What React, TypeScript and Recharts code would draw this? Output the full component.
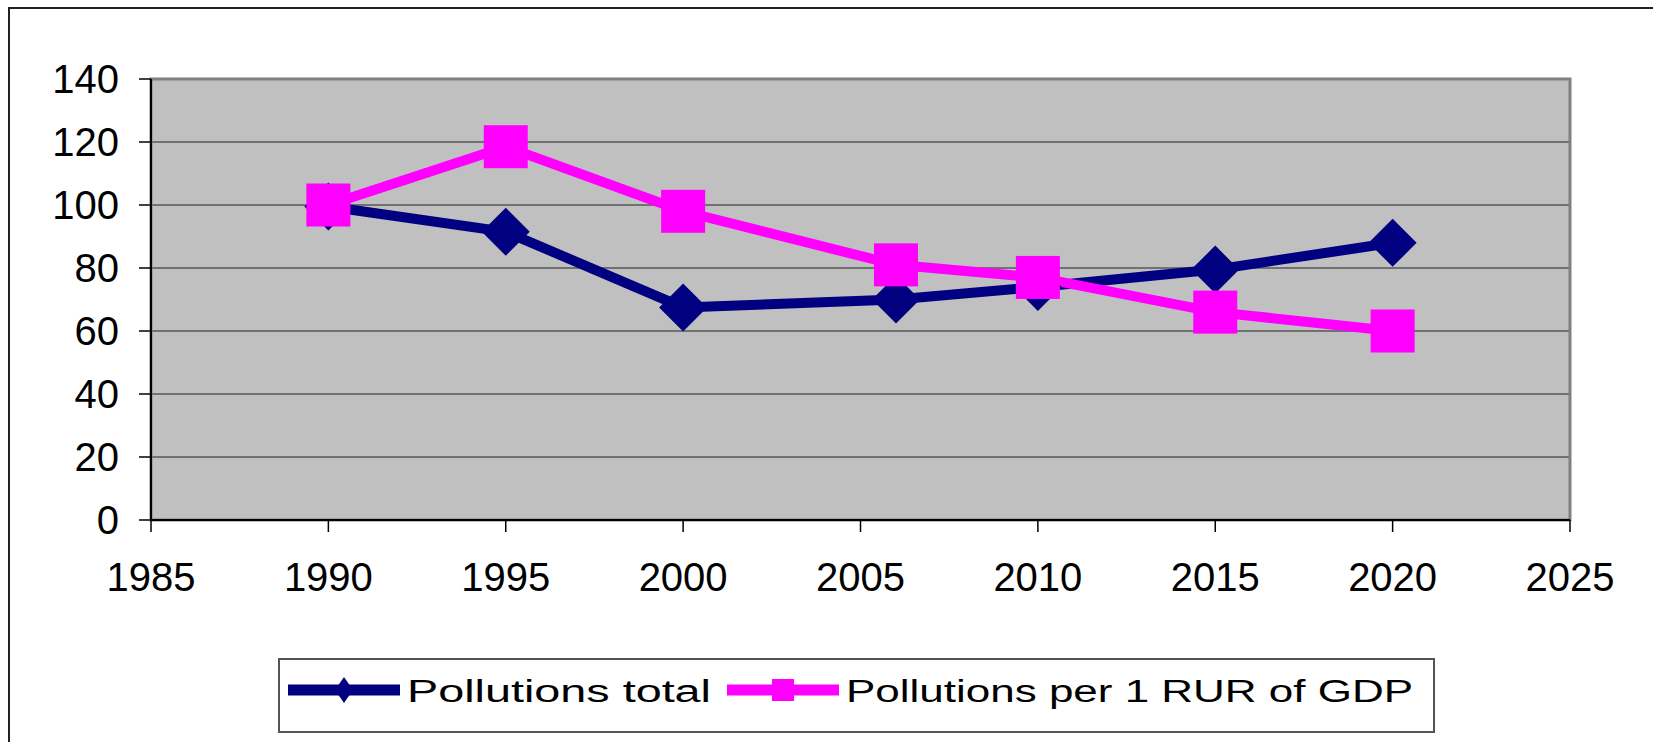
import React from "react"
import {
  LineChart,
  Line,
  XAxis,
  YAxis,
  CartesianGrid,
  Legend,
  ReferenceArea,
} from "recharts"

// values
const years = [1990, 1995, 2000, 2006, 2010, 2015, 2020]
const pollutionsTotal = [99.5, 91.5, 67.5, 70, 74, 79.5, 88]
const pollutionsPerGdp = [100, 118.5, 98, 81, 77, 66, 60]
const seriesNames = ["Pollutions total", "Pollutions per 1 RUR of GDP"]
const xTicks = [1985, 1990, 1995, 2000, 2005, 2010, 2015, 2020, 2025]
const yTicks = [0, 20, 40, 60, 80, 100, 120, 140]

const NAVY = "#000080"
const MAGENTA = "#FF00FF"
const FONT = "'Liberation Sans', Arial, Helvetica, sans-serif"

// legend layout (style only)
const legendItemX = [10, 449]
const legendTextWidth = [304, 567]

const data = years.map((year, i) => ({
  year,
  total: pollutionsTotal[i],
  perGdp: pollutionsPerGdp[i],
}))

const Diamond = (props: any) => {
  const { cx, cy, index } = props
  if (cx == null || cy == null) return <g key={`d-${index}`} />
  const r = 24
  return (
    <path
      key={`d-${index}`}
      d={`M${cx},${cy - r}L${cx + r},${cy}L${cx},${cy + r}L${cx - r},${cy}Z`}
      fill={NAVY}
    />
  )
}

const Square = (props: any) => {
  const { cx, cy, index } = props
  if (cx == null || cy == null) return <g key={`s-${index}`} />
  return (
    <rect key={`s-${index}`} x={cx - 22} y={cy - 21.5} width={44} height={43} fill={MAGENTA} />
  )
}

const LegendBox = (props: any) => {
  const payload = [...((props.payload || []) as any[])].sort(
    (a, b) => seriesNames.indexOf(a.value) - seriesNames.indexOf(b.value)
  )
  return (
    <svg width={1157} height={75} style={{ display: "block" }}>
      <rect x={1} y={1} width={1155} height={73} fill="#fff" stroke="#555" strokeWidth={2} />
      {payload.map((entry) => {
        const i = seriesNames.indexOf(entry.value)
        const x0 = legendItemX[i]
        const color = entry.color
        return (
          <g key={entry.value}>
            <line x1={x0} x2={x0 + 112} y1={32} y2={32} stroke={color} strokeWidth={11} />
            {i === 0 ? (
              <path d={`M${x0 + 56},${19}L${x0 + 65},${32}L${x0 + 56},${45}L${x0 + 47},${32}Z`} fill={color} />
            ) : (
              <rect x={x0 + 45} y={21} width={22} height={22} fill={color} />
            )}
            <text
              x={x0 + 119}
              y={44}
              fontSize={31}
              fontFamily={FONT}
              fill="#000"
              textLength={legendTextWidth[i]}
              lengthAdjust="spacingAndGlyphs"
            >
              {entry.value}
            </text>
          </g>
        )
      })}
    </svg>
  )
}

export default function App() {
  return (
    <div style={{ position: "relative", width: 1645, height: 726, fontFamily: FONT }}>
      <LineChart
        width={1645}
        height={726}
        data={data}
        margin={{ top: 71, right: 83, bottom: 154, left: 63 }}
      >
        <CartesianGrid
          vertical={false}
          fill="#C0C0C0"
          fillOpacity={1}
          stroke="#222"
          strokeWidth={1}
        />
        <ReferenceArea
          x1={1985}
          x2={2025}
          y1={0}
          y2={140}
          fill="none"
          stroke="#808080"
          strokeWidth={3}
        />
        <XAxis
          dataKey="year"
          type="number"
          domain={[1985, 2025]}
          ticks={xTicks}
          interval={0}
          height={60}
          tickSize={12}
          tickMargin={31}
          stroke="#000"
          strokeWidth={2}
          tick={{ fontSize: 40, fill: "#000", fontFamily: FONT }}
          tickLine={{ stroke: "#000", strokeWidth: 1.5 }}
        />
        <YAxis
          type="number"
          domain={[0, 140]}
          ticks={yTicks}
          interval={0}
          width={80}
          tickSize={12}
          tickMargin={20}
          stroke="#000"
          strokeWidth={2}
          tick={{ fontSize: 40, fill: "#000", fontFamily: FONT }}
          tickLine={{ stroke: "#000", strokeWidth: 1.5 }}
        />
        <Legend
          layout="horizontal"
          verticalAlign="middle"
          align="center"
          wrapperStyle={{ left: 270, top: 650, width: 1157, height: 75 }}
          content={LegendBox}
        />
        <Line
          dataKey="total"
          name={seriesNames[0]}
          stroke={NAVY}
          strokeWidth={10}
          dot={Diamond}
          activeDot={false}
          isAnimationActive={false}
        />
        <Line
          dataKey="perGdp"
          name={seriesNames[1]}
          stroke={MAGENTA}
          strokeWidth={10}
          dot={Square}
          activeDot={false}
          isAnimationActive={false}
        />
      </LineChart>
      <div
        style={{
          position: "fixed",
          top: 7,
          left: 8,
          right: 0,
          bottom: 0,
          borderTop: "2px solid #222",
          borderLeft: "2px solid #222",
          pointerEvents: "none",
          zIndex: 5,
        }}
      />
    </div>
  )
}
